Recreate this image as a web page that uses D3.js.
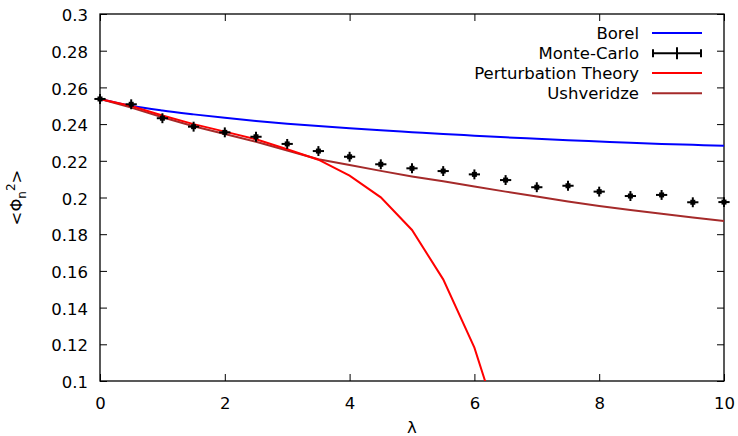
<!DOCTYPE html>
<html>
<head>
<meta charset="utf-8">
<script src="https://cdn.jsdelivr.net/npm/d3@7"></script>
<style>
  body { margin: 0; background: #fff; }
  svg { display: block; font-family: "DejaVu Sans", Verdana, sans-serif; }
</style>
</head>
<body>
<div id="chart"></div>
<script>
// lambda grid
const lambdas = [0, 0.5, 1, 1.5, 2, 2.5, 3, 3.5, 4, 4.5, 5, 5.5, 6, 6.5, 7, 7.5, 8, 8.5, 9, 9.5, 10];

const borel = [0.2537, 0.2500, 0.2474, 0.2453, 0.2434, 0.2417, 0.2402, 0.2389, 0.2377, 0.2366, 0.2356,
               0.2346, 0.2337, 0.2328, 0.2320, 0.2312, 0.2305, 0.2298, 0.2292, 0.2287, 0.2282];

const monteCarlo = [0.2537, 0.2508, 0.2432, 0.2386, 0.2355, 0.2331, 0.2292, 0.2253, 0.2222, 0.2181, 0.2159,
                    0.2144, 0.2126, 0.2095, 0.2056, 0.2064, 0.2032, 0.2008, 0.2014, 0.1974, 0.1975];
const mcXErr = [0.09, 0.09, 0.09, 0.09, 0.09, 0.09, 0.09, 0.09, 0.09, 0.09, 0.09,
                0.09, 0.09, 0.09, 0.09, 0.09, 0.09, 0.09, 0.09, 0.09, 0.09];
const mcYErr = [0.0027, 0.0027, 0.0027, 0.0027, 0.0027, 0.0027, 0.0027, 0.0027, 0.0027, 0.0027, 0.0027,
                0.0027, 0.0027, 0.0027, 0.0027, 0.0027, 0.0027, 0.0027, 0.0027, 0.0027, 0.0027];

const ptLambdas = [0, 0.5, 1, 1.5, 2, 2.5, 3, 3.5, 4, 4.5, 5, 5.5, 6, 6.5];
const perturbation = [0.2537, 0.2499, 0.2447, 0.2400, 0.2359, 0.2317, 0.2263, 0.2206, 0.2119, 0.2001,
                      0.1823, 0.1554, 0.1182, 0.0650];

const ushveridze = [0.2537, 0.2490, 0.2437, 0.2388, 0.2346, 0.2304, 0.2256, 0.2208, 0.2177, 0.2145, 0.2115,
                    0.2088, 0.2060, 0.2032, 0.2005, 0.1978, 0.1954, 0.1932, 0.1911, 0.1891, 0.1872];

const xTicks = [0, 2, 4, 6, 8, 10];
const xTickLabels = ['0', '2', '4', '6', '8', '10'];
const yTicks = [0.1, 0.12, 0.14, 0.16, 0.18, 0.2, 0.22, 0.24, 0.26, 0.28, 0.3];
const yTickLabels = ['0.1', '0.12', '0.14', '0.16', '0.18', '0.2', '0.22', '0.24', '0.26', '0.28', '0.3'];

const legendNames = ['Borel', 'Monte-Carlo', 'Perturbation Theory', 'Ushveridze'];
const legendColors = ['#0000ff', '#000000', '#ff0000', '#a52a2a'];

const width = 738, height = 436;
const margin = { left: 100, right: 14, top: 14, bottom: 55 };
const fontSize = 16.5;

const svg = d3.select('#chart')
    .append('svg')
    .attr('width', width)
    .attr('height', height)
    .style('font-size', fontSize + 'px');

const x = d3.scaleLinear().domain([0, 10]).range([margin.left, width - margin.right]);
const y = d3.scaleLinear().domain([0.1, 0.3]).range([height - margin.bottom, margin.top]);

// clip for curves
svg.append('clipPath').attr('id', 'plotClip')
    .append('rect')
    .attr('x', x(0)).attr('y', y(0.3))
    .attr('width', x(10) - x(0)).attr('height', y(0.1) - y(0.3));

// Axes with inward ticks on all four sides
const tickLen = 7;
const leftAxis = d3.axisLeft(y).tickValues(yTicks)
    .tickFormat((d, i) => yTickLabels[i]).tickSize(-tickLen).tickPadding(12);
const rightAxis = d3.axisRight(y).tickValues(yTicks).tickFormat('').tickSize(-tickLen);
const bottomAxis = d3.axisBottom(x).tickValues(xTicks)
    .tickFormat((d, i) => xTickLabels[i]).tickSize(-tickLen).tickPadding(16);
const topAxis = d3.axisTop(x).tickValues(xTicks).tickFormat('').tickSize(-tickLen);

function styleAxis(g) {
    g.select('.domain').remove();
    g.selectAll('.tick line').attr('stroke', '#000').attr('stroke-width', 1);
    g.selectAll('.tick text').attr('fill', '#000')
        .style('font-size', fontSize + 'px')
        .style('font-family', '"DejaVu Sans", Verdana, sans-serif');
}

svg.append('g').attr('transform', `translate(${x(0)},0)`).call(leftAxis).call(styleAxis)
    .selectAll('.tick text').attr('dy', '0.4em');
svg.append('g').attr('transform', `translate(${x(10)},0)`).call(rightAxis).call(styleAxis);
svg.append('g').attr('transform', `translate(0,${y(0.1)})`).call(bottomAxis).call(styleAxis)
    .selectAll('.tick text').attr('dy', '0.71em');
svg.append('g').attr('transform', `translate(0,${y(0.3)})`).call(topAxis).call(styleAxis);

// Border
svg.append('rect')
    .attr('x', x(0)).attr('y', y(0.3))
    .attr('width', x(10) - x(0)).attr('height', y(0.1) - y(0.3))
    .attr('fill', 'none').attr('stroke', '#000').attr('stroke-width', 1.3);

// Axis labels
svg.append('text')
    .attr('x', (x(0) + x(10)) / 2).attr('y', 433)
    .attr('text-anchor', 'middle')
    .text('λ');

const yLab = svg.append('text')
    .attr('transform', `translate(22,${(y(0.1) + y(0.3)) / 2}) rotate(-90)`)
    .attr('text-anchor', 'middle');
yLab.append('tspan').text('<Φ');
yLab.append('tspan').attr('dy', 4).style('font-size', '12px').text('n');
yLab.append('tspan').attr('dy', -11).style('font-size', '12px').text('2');
yLab.append('tspan').attr('dy', 7).text('>');

// Curves
const line = d3.line().x(d => x(d[0])).y(d => y(d[1]));
const plot = svg.append('g').attr('clip-path', 'url(#plotClip)');

plot.append('path')
    .datum(lambdas.map((l, i) => [l, borel[i]]))
    .attr('d', line.curve(d3.curveMonotoneX))
    .attr('fill', 'none').attr('stroke', legendColors[0]).attr('stroke-width', 2);

plot.append('path')
    .datum(lambdas.map((l, i) => [l, ushveridze[i]]))
    .attr('d', line.curve(d3.curveLinear))
    .attr('fill', 'none').attr('stroke', legendColors[3]).attr('stroke-width', 2);

plot.append('path')
    .datum(ptLambdas.map((l, i) => [l, perturbation[i]]))
    .attr('d', line.curve(d3.curveLinear))
    .attr('fill', 'none').attr('stroke', legendColors[2]).attr('stroke-width', 2);

// Monte-Carlo points with error bars
const cap = 2.5;
const mc = svg.append('g').attr('stroke', '#000').attr('stroke-width', 2);
lambdas.forEach((l, i) => {
    const cx = x(l), cy = y(monteCarlo[i]);
    const x0 = x(l - mcXErr[i]), x1 = x(l + mcXErr[i]);
    const y0 = y(monteCarlo[i] - mcYErr[i]), y1 = y(monteCarlo[i] + mcYErr[i]);
    mc.append('line').attr('x1', x0).attr('x2', x1).attr('y1', cy).attr('y2', cy);
    mc.append('line').attr('x1', cx).attr('x2', cx).attr('y1', y0).attr('y2', y1);
    mc.append('rect').attr('x', cx - cap).attr('y', cy - cap)
        .attr('width', 2 * cap).attr('height', 2 * cap).attr('fill', '#000').attr('stroke', 'none');
});

// Legend
const legendTextX = 639, sampleX0 = 652, sampleX1 = 702;
const rowY = [33, 53.3, 73, 93.3];
const legend = svg.append('g');
legendNames.forEach((name, i) => {
    legend.append('text')
        .attr('x', legendTextX).attr('y', rowY[i])
        .attr('dy', '0.36em')
        .attr('text-anchor', 'end')
        .text(name);
    legend.append('line')
        .attr('x1', sampleX0).attr('x2', sampleX1)
        .attr('y1', rowY[i]).attr('y2', rowY[i])
        .attr('stroke', legendColors[i]).attr('stroke-width', 2);
    if (name === 'Monte-Carlo') {
        [sampleX0 + 1, sampleX1 - 1].forEach(px => {
            legend.append('line').attr('x1', px).attr('x2', px)
                .attr('y1', rowY[i] - 4).attr('y2', rowY[i] + 4)
                .attr('stroke', '#000').attr('stroke-width', 2);
        });
        legend.append('line')
            .attr('x1', (sampleX0 + sampleX1) / 2).attr('x2', (sampleX0 + sampleX1) / 2)
            .attr('y1', rowY[i] - 6).attr('y2', rowY[i] + 6)
            .attr('stroke', '#000').attr('stroke-width', 2);
    }
});
</script>
</body>
</html>
